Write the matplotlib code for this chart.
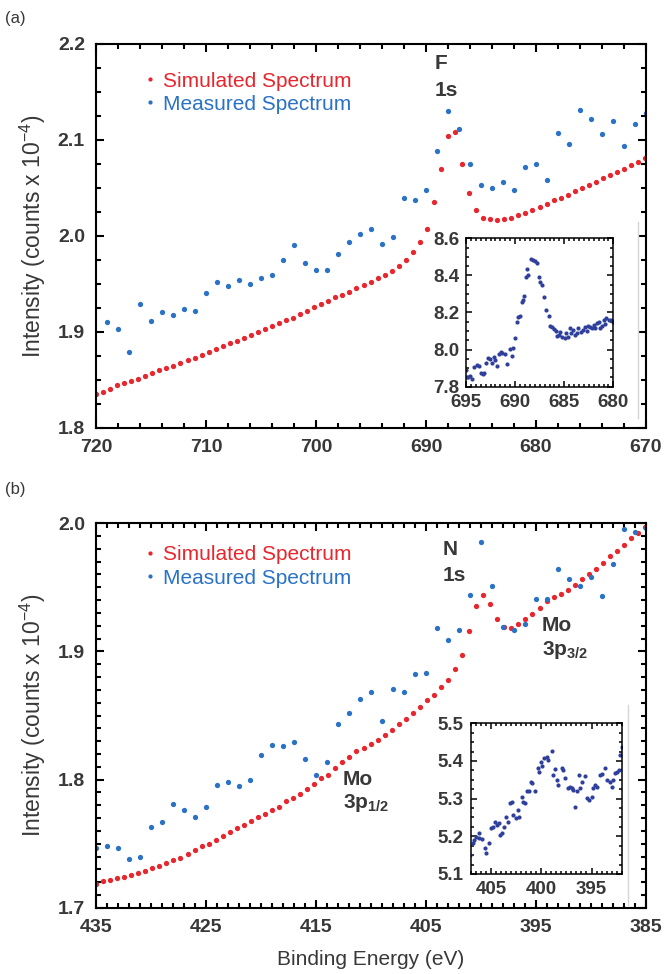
import numpy as np
import matplotlib
matplotlib.use('Agg')
import matplotlib.pyplot as plt
from matplotlib.ticker import MultipleLocator
from matplotlib.lines import Line2D

plt.rcParams['font.family'] = ['Liberation Sans', 'DejaVu Sans']
plt.rcParams['mathtext.fontset'] = 'custom'
plt.rcParams['mathtext.rm'] = 'Liberation Sans'
plt.rcParams['mathtext.it'] = 'Liberation Sans:italic'
plt.rcParams['mathtext.bf'] = 'Liberation Sans:bold'

# ---------------- panel (a): F 1s region ----------------
# simulated spectrum sampled every 0.64 eV from 720 eV
sim_a_energy = np.arange(720, 669.9, -0.64)
sim_a = [1.835, 1.837, 1.841, 1.845, 1.847, 1.849, 1.851, 1.854, 1.857, 1.860,
         1.862, 1.865, 1.868, 1.871, 1.873, 1.876, 1.879, 1.882, 1.885, 1.888,
         1.891, 1.894, 1.897, 1.900, 1.903, 1.906, 1.909, 1.912, 1.915, 1.919,
         1.922, 1.926, 1.929, 1.932, 1.936, 1.939, 1.942, 1.946, 1.949, 1.952,
         1.956, 1.959, 1.964, 1.969, 1.975, 1.983, 1.994, 2.007, 2.035, 2.070,
         2.104, 2.108, 2.075, 2.045, 2.027, 2.019, 2.018, 2.017, 2.018, 2.019,
         2.022, 2.024, 2.027, 2.030, 2.033, 2.037, 2.040, 2.043, 2.047, 2.050,
         2.053, 2.056, 2.060, 2.064, 2.067, 2.070, 2.074, 2.077, 2.081]

meas_a_energy = np.arange(719, 669, -1)
meas_a = [1.910, 1.903, 1.879, 1.929, 1.911, 1.921, 1.918, 1.924, 1.922, 1.941,
          1.952, 1.948, 1.954, 1.950, 1.956, 1.959, 1.975, 1.991, 1.972, 1.965,
          1.965, 1.981, 1.994, 2.002, 2.007, 1.992, 1.999, 2.040, 2.037, 2.048,
          2.088, 2.130, 2.111, 2.075, 2.053, 2.050, 2.056, 2.048, 2.072, 2.075,
          2.058, 2.107, 2.096, 2.131, 2.122, 2.106, 2.120, 2.094, 2.117, 2.128]

inset_a_energy = [695.0, 694.9, 694.8, 694.6, 694.4, 694.2, 693.9, 693.7, 693.5, 693.3,
                  693.2, 693.0, 692.8, 692.6, 692.4, 692.2, 692.0, 691.8, 691.6, 691.4,
                  691.3, 691.0, 690.8, 690.5, 690.3, 690.2, 690.0, 689.8, 689.7, 689.5,
                  689.3, 689.2, 689.1, 688.9, 688.8, 688.7, 688.4, 688.2, 688.0, 687.8,
                  687.6, 687.5, 687.3, 687.1, 686.9, 686.6, 686.4, 686.2, 686.0, 685.8,
                  685.7, 685.5, 685.4, 685.2, 684.9, 684.8, 684.6, 684.4, 684.3, 684.1,
                  683.9, 683.7, 683.6, 683.3, 683.1, 682.9, 682.7, 682.6, 682.4, 682.2,
                  682.0, 681.9, 681.7, 681.5, 681.4, 681.2, 681.0, 680.8, 680.7, 680.4,
                  680.2, 680.0]
inset_a = [7.890, 7.854, 7.851, 7.858, 7.840, 7.908, 7.917, 7.912, 7.872, 7.868,
           7.875, 7.926, 7.953, 7.948, 7.929, 7.958, 7.944, 7.913, 7.976, 7.989,
           7.983, 7.976, 7.922, 8.002, 7.966, 8.007, 8.061, 8.150, 8.177, 8.181,
           8.258, 8.267, 8.289, 8.390, 8.433, 8.402, 8.487, 8.483, 8.479, 8.465,
           8.390, 8.366, 8.348, 8.282, 8.213, 8.181, 8.127, 8.123, 8.109, 8.102,
           8.073, 8.079, 8.097, 8.066, 8.061, 8.088, 8.070, 8.115, 8.088, 8.106,
           8.079, 8.088, 8.115, 8.097, 8.106, 8.120, 8.102, 8.127, 8.123, 8.115,
           8.133, 8.115, 8.142, 8.150, 8.115, 8.127, 8.160, 8.138, 8.169, 8.160,
           8.160, 8.150]

# ---------------- panel (b): N 1s / Mo 3p region ----------------
sim_b_energy = np.arange(435, 384.9, -0.64)
sim_b = [1.719, 1.721, 1.722, 1.723, 1.724, 1.726, 1.727, 1.729, 1.731, 1.733,
         1.735, 1.737, 1.739, 1.742, 1.745, 1.748, 1.750, 1.753, 1.756, 1.759,
         1.762, 1.765, 1.768, 1.771, 1.773, 1.776, 1.779, 1.783, 1.786, 1.789,
         1.793, 1.797, 1.801, 1.804, 1.809, 1.814, 1.818, 1.822, 1.825, 1.828,
         1.831, 1.835, 1.839, 1.843, 1.847, 1.852, 1.857, 1.862, 1.866, 1.872,
         1.878, 1.886, 1.897, 1.916, 1.935, 1.944, 1.937, 1.925, 1.919, 1.918,
         1.921, 1.925, 1.929, 1.934, 1.939, 1.942, 1.945, 1.948, 1.952, 1.956,
         1.960, 1.964, 1.969, 1.974, 1.978, 1.983, 1.988, 1.992, 1.997]

meas_b_energy = np.arange(435, 384, -1)
meas_b = [1.747, 1.748, 1.747, 1.738, 1.740, 1.763, 1.767, 1.781, 1.776, 1.771,
          1.779, 1.796, 1.798, 1.795, 1.800, 1.819, 1.827, 1.826, 1.829, 1.816,
          1.804, 1.814, 1.843, 1.852, 1.863, 1.868, 1.846, 1.871, 1.868, 1.882,
          1.883, 1.918, 1.909, 1.917, 1.944, 1.985, 1.951, 1.919, 1.917, 1.921,
          1.941, 1.941, 1.964, 1.956, 1.951, 1.958, 1.943, 1.968, 1.995, 1.993,
          1.996]

inset_b_energy = [407.05, 406.8, 406.7, 406.5, 406.2, 406.2, 405.9, 405.6, 405.5, 405.2,
                  405.0, 404.8, 404.6, 404.4, 404.2, 404.1, 403.9, 403.7, 403.5, 403.3,
                  403.1, 402.9, 402.8, 402.5, 402.3, 402.2, 401.9, 401.8, 401.6, 401.4,
                  401.2, 401.0, 400.9, 400.6, 400.3, 400.2, 400.0, 399.9, 399.7, 399.4,
                  399.3, 398.9, 398.8, 398.6, 398.4, 398.3, 397.9, 397.8, 397.6, 397.3,
                  397.1, 396.9, 396.8, 396.6, 396.4, 396.2, 396.1, 395.9, 395.6, 395.4,
                  395.2, 395.0, 394.9, 394.7, 394.5, 394.2, 394.0, 393.7, 393.5, 393.2,
                  393.0, 392.9, 392.7, 392.5, 392.3, 392.2, 392.0]
inset_b = [5.151, 5.182, 5.190, 5.198, 5.208, 5.195, 5.192, 5.168, 5.155, 5.183,
           5.221, 5.226, 5.239, 5.230, 5.235, 5.204, 5.208, 5.226, 5.250, 5.239,
           5.288, 5.292, 5.257, 5.248, 5.270, 5.252, 5.305, 5.292, 5.288, 5.319,
           5.319, 5.345, 5.341, 5.319, 5.381, 5.372, 5.398, 5.387, 5.407, 5.411,
           5.403, 5.427, 5.363, 5.378, 5.350, 5.336, 5.381, 5.376, 5.354, 5.328,
           5.330, 5.328, 5.323, 5.279, 5.319, 5.363, 5.328, 5.345, 5.360, 5.301,
           5.297, 5.305, 5.328, 5.336, 5.332, 5.363, 5.366, 5.381, 5.350, 5.345,
           5.332, 5.350, 5.369, 5.372, 5.376, 5.416, 5.438]

RED = '#e8262d'
BLUE = '#2a72c6'
NAVY = '#2e3f9c'
TXT = '#383838'


def style_axes(ax, xmaj, xmin, ymaj, ymin, lw, fs, pad, xoff=0):
    ax.xaxis.set_major_locator(MultipleLocator(xmaj, offset=xoff))
    ax.xaxis.set_minor_locator(MultipleLocator(xmin))
    ax.yaxis.set_major_locator(MultipleLocator(ymaj))
    ax.yaxis.set_minor_locator(MultipleLocator(ymin))
    ax.tick_params(which='both', direction='in', top=True, right=True,
                   width=lw, colors='black', labelcolor=TXT, labelsize=fs, pad=pad)
    ax.tick_params(which='major', length=6)
    ax.tick_params(which='minor', length=3.5)
    for lab in ax.get_xticklabels() + ax.get_yticklabels():
        lab.set_fontweight('bold')
    for s in ax.spines.values():
        s.set_linewidth(lw)


def label(ax, x, y, s):
    ax.text(x, y, s, fontsize=15, color=TXT, va='center', ha='left', fontweight='bold')


fig = plt.figure(figsize=(6.65, 9.74), dpi=100)

# ---- (a) main ----
ax_a = fig.add_axes([0.1444, 0.5606, 0.8270, 0.3943])
ax_a.plot(sim_a_energy, sim_a, 'o', color=RED, ms=3.8, mew=0, label='Simulated Spectrum')
ax_a.plot(meas_a_energy, meas_a, 'o', color=BLUE, ms=3.8, mew=0, label='Measured Spectrum')
ax_a.set_xlim(720, 670)
ax_a.set_ylim(1.8, 2.2)
ax_a.yaxis.set_major_formatter(plt.FormatStrFormatter('%.1f'))
style_axes(ax_a, 10, 2, 0.1, 0.025, 1.5, 14, 8)
ax_a.set_ylabel('Intensity (counts x 10$^{-4}$)', fontsize=16.5, color=TXT, labelpad=7)
ax_a.legend(loc='upper left', bbox_to_anchor=(0.089, 0.928), frameon=False, fontsize=15,
            handlelength=0.5, handletextpad=0.35, labelspacing=0.2, markerscale=0.8,
            labelcolor='linecolor', borderaxespad=0, borderpad=0)
label(ax_a, 689.2, 2.180, 'F')
label(ax_a, 689.2, 2.152, '1s')

# ---- (a) inset ----
fig.add_artist(Line2D([0.9594, 0.9594], [0.5708, 0.7721], transform=fig.transFigure,
                      color='#d6d6d6', lw=1))
ins_a = fig.add_axes([0.7008, 0.6030, 0.2215, 0.1524])
ins_a.plot(inset_a_energy, inset_a, 'o', color=NAVY, ms=3, mew=0)
ins_a.set_xlim(695, 680)
ins_a.set_ylim(7.8, 8.6)
ins_a.yaxis.set_major_formatter(plt.FormatStrFormatter('%.1f'))
style_axes(ins_a, 5, 0.5, 0.2, 0.05, 1.1, 13.5, 5)
ins_a.tick_params(which='major', length=4)
ins_a.tick_params(which='minor', length=2)

# ---- (b) main ----
ax_b = fig.add_axes([0.1444, 0.0678, 0.8270, 0.3952])
ax_b.plot(sim_b_energy, sim_b, 'o', color=RED, ms=3.8, mew=0, label='Simulated Spectrum')
ax_b.plot(meas_b_energy, meas_b, 'o', color=BLUE, ms=3.8, mew=0, label='Measured Spectrum')
ax_b.set_xlim(435, 385)
ax_b.set_ylim(1.7, 2.0)
ax_b.yaxis.set_major_formatter(plt.FormatStrFormatter('%.1f'))
style_axes(ax_b, 10, 1, 0.1, 0.01, 1.5, 14, 8, xoff=5)
ax_b.set_ylabel('Intensity (counts x 10$^{-4}$)', fontsize=16.5, color=TXT, labelpad=7)
ax_b.set_xlabel('Binding Energy (eV)', fontsize=15, color=TXT, labelpad=10)
ax_b.legend(loc='upper left', bbox_to_anchor=(0.089, 0.942), frameon=False, fontsize=15,
            handlelength=0.5, handletextpad=0.35, labelspacing=0.2, markerscale=0.8,
            labelcolor='linecolor', borderaxespad=0, borderpad=0)
label(ax_b, 403.45, 1.979, 'N')
label(ax_b, 403.45, 1.959, '1s')
label(ax_b, 394.45, 1.920, 'Mo')
label(ax_b, 394.45, 1.901, r'3p$_{\mathbf{3/2}}$')
label(ax_b, 412.55, 1.800, 'Mo')
label(ax_b, 412.55, 1.782, r'3p$_{\mathbf{1/2}}$')

# ---- (b) inset ----
fig.add_artist(Line2D([0.9444, 0.9444], [0.0708, 0.2762], transform=fig.transFigure,
                      color='#d6d6d6', lw=1))
ins_b = fig.add_axes([0.7078, 0.1027, 0.2271, 0.1547])
ins_b.plot(inset_b_energy, inset_b, 'o', color=NAVY, ms=3, mew=0)
ins_b.set_xlim(407, 392)
ins_b.set_ylim(5.1, 5.5)
ins_b.yaxis.set_major_formatter(plt.FormatStrFormatter('%.1f'))
style_axes(ins_b, 5, 0.5, 0.1, 0.025, 1.1, 13.5, 5)
ins_b.tick_params(which='major', length=4)
ins_b.tick_params(which='minor', length=2)

fig.text(0.008, 0.981, '(a)', fontsize=12, color=TXT, ha='left', va='center')
fig.text(0.008, 0.497, '(b)', fontsize=12, color=TXT, ha='left', va='center')

fig.savefig('out.png', dpi=100)
